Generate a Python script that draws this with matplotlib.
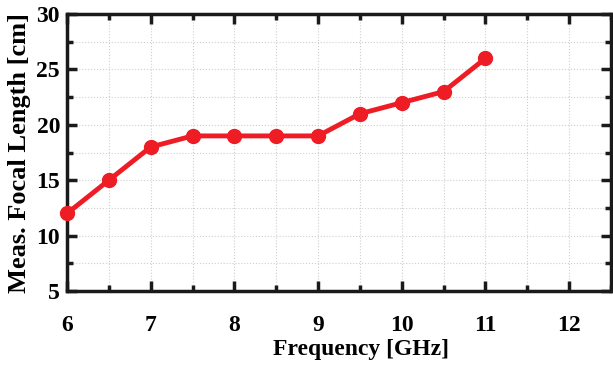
import numpy as np
import matplotlib.pyplot as plt
from matplotlib.ticker import MultipleLocator

### Datos
freq = [6, 6.5, 7, 7.5, 8, 8.5, 9, 9.5, 10, 10.5, 11]
focal = [12, 15, 18, 19, 19, 19, 19, 21, 22, 23, 26]

plt.rcParams['font.family'] = ['Liberation Serif', 'DejaVu Serif']
plt.rcParams['font.weight'] = 'bold'

fig = plt.figure(figsize=(6.13, 3.70), dpi=100)
ax = fig.add_axes([0.1093, 0.2135, 0.8874, 0.7485])

ax.plot(freq, focal, color='#ee1c25', lw=3.5, marker='o', ms=10, clip_on=False, zorder=3)

ax.set_xlim(6, 12.5)
ax.set_ylim(5, 30)
ax.xaxis.set_major_locator(MultipleLocator(1))
ax.xaxis.set_minor_locator(MultipleLocator(0.5))
ax.yaxis.set_major_locator(MultipleLocator(5))
ax.yaxis.set_minor_locator(MultipleLocator(2.5))

# rejilla punteada
ax.grid(True, which='both', ls=':', lw=0.8, color='#cfcfcf')

for s in ax.spines.values():
    s.set_linewidth(2.5)
    s.set_color('#1a1a1a')
ax.tick_params(which='both', direction='in', top=True, right=True, width=2.5, color='#1a1a1a')
ax.tick_params(which='major', length=7, labelsize=17)
ax.tick_params(axis='x', which='major', pad=17)
ax.tick_params(axis='y', which='major', pad=5)
ax.tick_params(which='minor', length=4)

ax.set_xlabel('Frequency [GHz]', fontsize=17, fontweight='bold', labelpad=3)
ax.xaxis.set_label_coords(0.54, -0.175)
ax.set_ylabel('Meas. Focal Length [cm]', fontsize=19, fontweight='bold', labelpad=4)

fig.savefig('out.png', dpi=100)
